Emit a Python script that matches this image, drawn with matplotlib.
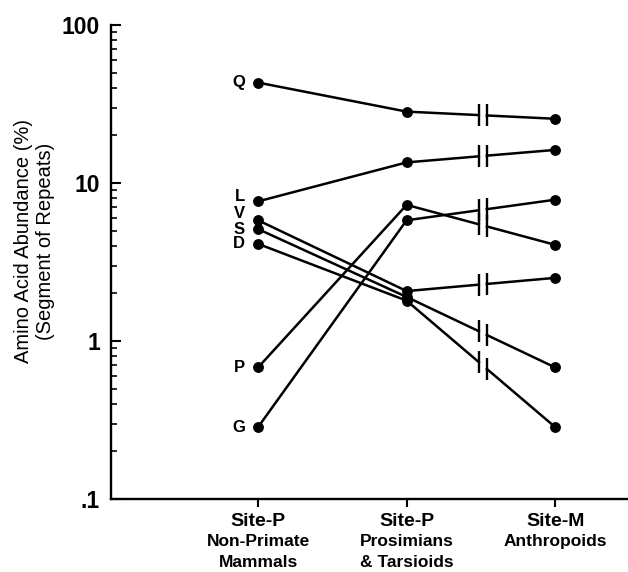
import numpy as np
import matplotlib.pyplot as plt
from matplotlib.ticker import LogLocator, NullFormatter, FixedLocator

plt.rcParams['font.family'] = ['Liberation Sans', 'DejaVu Sans']

# data
sites = ["Site-P", "Site-P", "Site-M"]
groups = ["Non-Primate\nMammals", "Prosimians\n& Tarsioids", "Anthropoids"]
amino = ["Q", "L", "V", "S", "D", "P", "G"]
non_primate = [43.2, 7.65, 5.81, 5.11, 4.12, 0.68, 0.285]
prosimian = [28.3, 13.5, 2.07, 1.9, 1.8, 7.27, 5.81]
anthropoid = [25.5, 16.2, 2.51, 0.68, 0.285, 4.06, 7.84]
ytick_vals = [0.1, 1, 10, 100]
ytick_text = [".1", "1", "10", "100"]

W, H = 628, 572
fig = plt.figure(figsize=(W / 100, H / 100), dpi=100)
ax = fig.add_axes([111 / W, 1 - 499 / H, (628 - 111) / W, (499 - 25) / H])

x = np.arange(3)
b1, b2 = 1.486, 1.54  # break marks between 2nd and 3rd column


def logint(xx, y0, y1):
    t = (xx - 1) / (2 - 1)
    return 10 ** (np.log10(y0) + t * (np.log10(y1) - np.log10(y0)))


for i, aa in enumerate(amino):
    y0, y1, y2 = non_primate[i], prosimian[i], anthropoid[i]
    yb1 = logint(b1, y1, y2)
    yb2 = logint(b2, y1, y2)
    ax.plot([0, 1, b1], [y0, y1, yb1], color='black', lw=1.8)
    ax.plot([b2, 2], [yb2, y2], color='black', lw=1.8)
    ax.plot([b1, b2], [yb1, yb2], ls='none', marker='|', ms=16, mew=1.7, color='black')
    ax.plot(x, [y0, y1, y2], ls='none', marker='o', ms=6.8, color='black')

# amino acid letters by the first column
lab_dy = {"Q": 0, "L": 3.5, "V": 5, "S": 0, "D": 0, "P": 0, "G": 0}
for i, aa in enumerate(amino):
    ax.annotate(aa, (0, non_primate[i]), xytext=(-9.5, lab_dy[aa]),
                textcoords='offset points', ha='right', va='center',
                fontsize=12, fontweight='bold')

ax.set_yscale('log')
ax.set_ylim(0.1, 100)
ax.set_xlim(-0.99, 2.49)

ax.yaxis.set_major_locator(FixedLocator(ytick_vals))
ax.set_yticklabels(ytick_text, fontsize=16.5, fontweight='bold')
ax.yaxis.set_minor_locator(LogLocator(base=10, subs=np.arange(2, 10)))
ax.yaxis.set_minor_formatter(NullFormatter())
ax.tick_params(axis='y', which='major', direction='in', length=7, width=1.5, pad=8)
ax.tick_params(axis='y', which='minor', direction='in', length=4, width=1.2)

ax.set_xticks(x)
ax.set_xticklabels([])
ax.tick_params(axis='x', direction='out', length=6, width=1.5)

for s in ['top', 'right']:
    ax.spines[s].set_visible(False)
for s in ['left', 'bottom']:
    ax.spines[s].set_linewidth(1.7)

tr = ax.get_xaxis_transform()
line_y = [-0.0905, -0.135]
for i in range(3):
    ax.text(i, -0.048, sites[i], transform=tr, ha='center', va='center',
            fontsize=14, fontweight='bold')
    for j, part in enumerate(groups[i].split("\n")):
        ax.text(i, line_y[j], part, transform=tr, ha='center', va='center',
                fontsize=12.5, fontweight='bold')

fig.text(35 / W, 1 - 241 / H, "Amino Acid Abundance (%)\n(Segment of Repeats)",
         rotation=90, ha='center', va='center', fontsize=14.5, multialignment='center')

fig.savefig("out.png", dpi=100)
